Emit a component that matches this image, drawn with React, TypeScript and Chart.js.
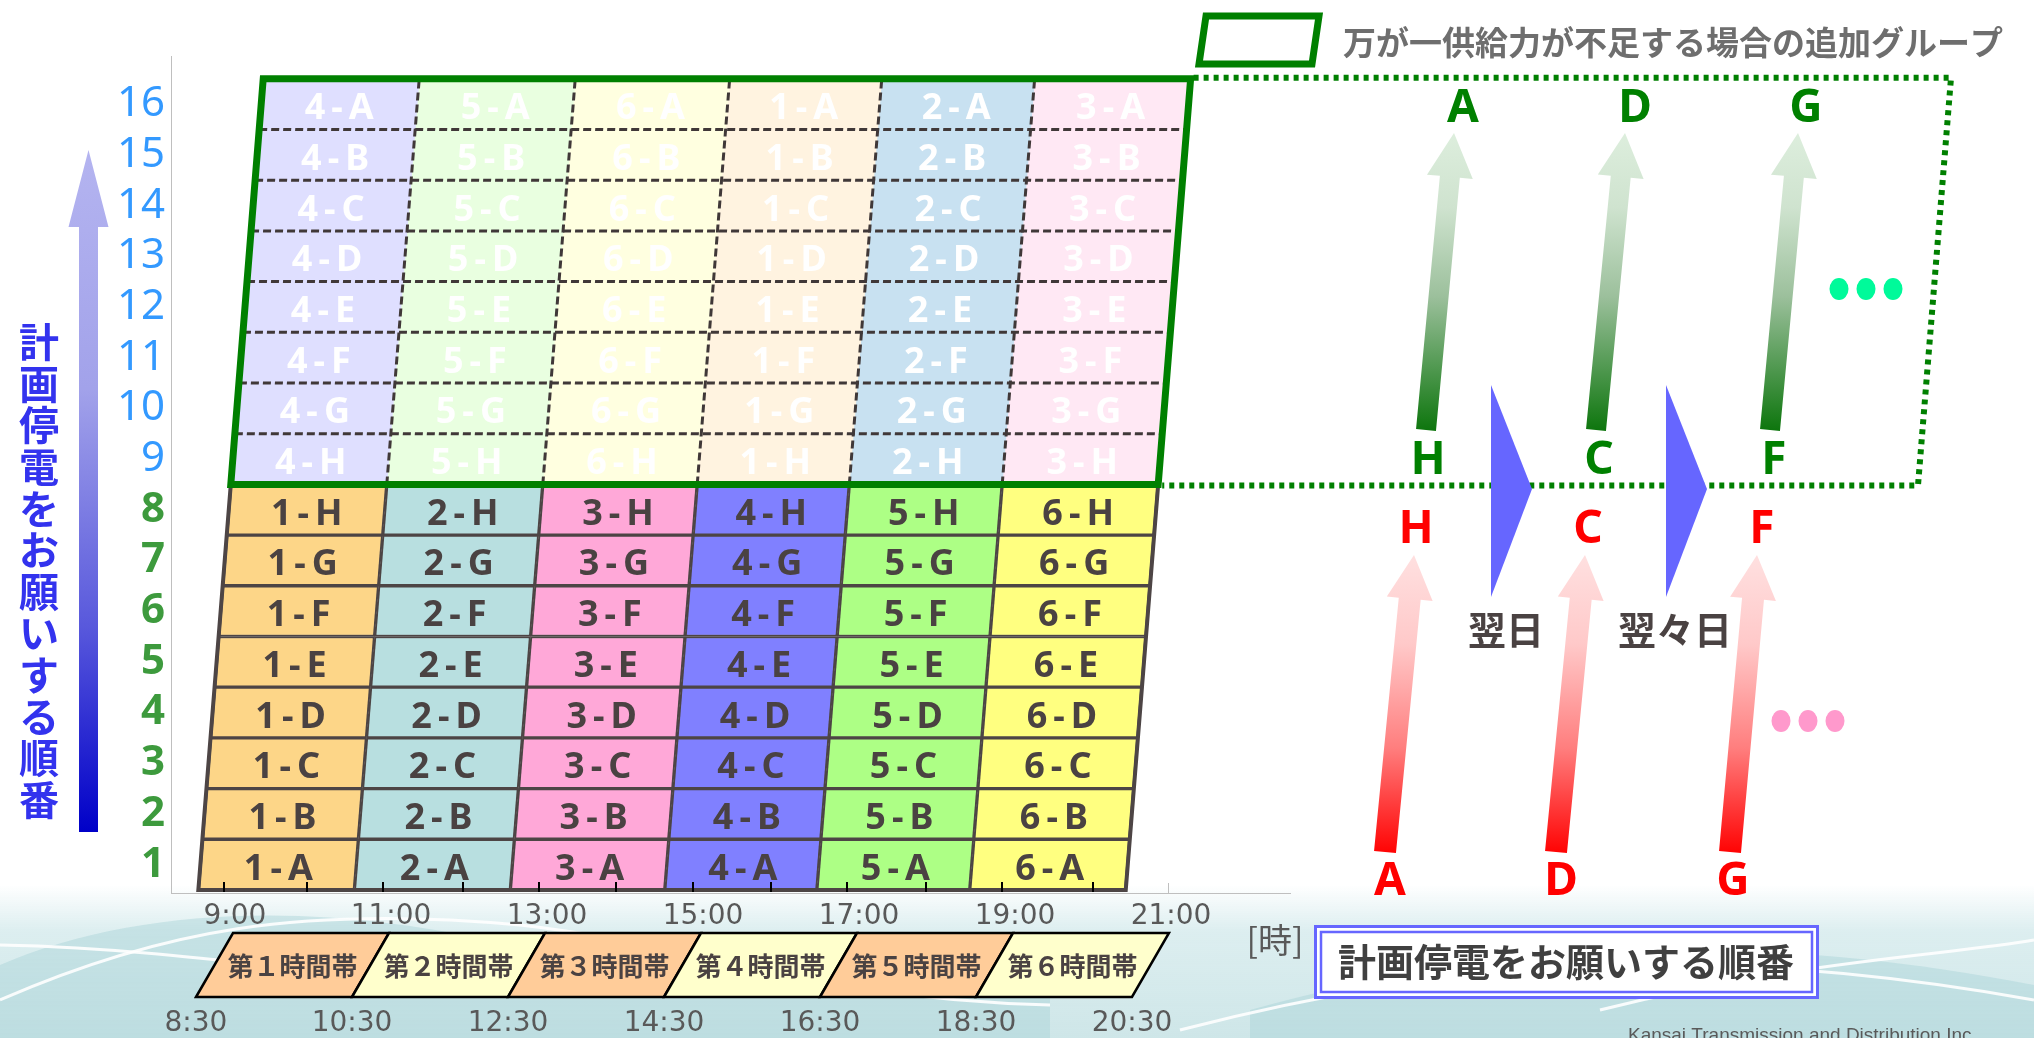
import React, { useEffect, useRef } from 'react';
import { Chart, registerables } from 'chart.js';

Chart.register(...registerables);

// ---------------- data ----------------
const groupLetters = ['A', 'B', 'C', 'D', 'E', 'F', 'G', 'H'];
const periodIds = ['1', '2', '3', '4', '5', '6'];
const extraPeriodIds = ['4', '5', '6', '1', '2', '3'];
const periodBoundsHours = [8.53, 10.53, 12.53, 14.51, 16.46, 18.42, 20.42];
const rowLabels = ['1', '2', '3', '4', '5', '6', '7', '8', '9', '10', '11', '12', '13', '14', '15', '16'];
const hourLabelValues = [9, 11, 13, 15, 17, 19, 21];
const hourMarkValues = [8.86, 9.92, 10.9, 11.92, 12.9, 13.88, 14.87, 15.87, 16.85, 17.86, 18.83, 20.0];
const axisEndMark = [20.96];
const bandNames = ['第１時間帯', '第２時間帯', '第３時間帯', '第４時間帯', '第５時間帯', '第６時間帯'];
const bandBoundHours = [8.5, 10.5, 12.5, 14.5, 16.5, 18.5, 20.5];
const bandBoundLabels = ['8:30', '10:30', '12:30', '14:30', '16:30', '18:30', '20:30'];
const dayLabels = ['翌日', '翌々日'];
const extraFromLetters = ['H', 'C', 'F'];
const extraToLetters = ['A', 'D', 'G'];
const baseFromLetters = ['A', 'D', 'G'];
const baseToLetters = ['H', 'C', 'F'];
const orderTitle = '計画停電をお願いする順番';
const legendText = '万が一供給力が不足する場合の追加グループ';
const hourUnit = '[時]';
const company = 'Kansai Transmission and Distribution Inc.';

// ---------------- styles ----------------
const X_MIN = 8.1795;
const X_MAX = 22.526;
const Y_MIN = -0.06;
const Y_MAX = 16.45;
const ROW_SHIFT_HOURS = 0.052;
const LOWER_COLORS = ['#FDD688', '#B8DFE0', '#FFA8D8', '#8080FF', '#ADFF85', '#FFFF80'];
const UPPER_COLORS = ['#DFDFFF', '#E9FFE0', '#FFFFE0', '#FFF3E0', '#C8E1F1', '#FFE8F4'];
const CELL_LINE = '#4D4545';
const TEXT_DARK = '#4A4242';
const GREEN = '#008000';
const CJK = "'Noto Sans CJK JP', sans-serif";
const SANS = "'Noto Sans', sans-serif";
const DEJAVU = "'DejaVu Sans', sans-serif";

function skewFactor(chart: any) {
  const xs = chart.scales.x;
  const ys = chart.scales.y;
  const dx = xs.getPixelForValue(X_MIN + ROW_SHIFT_HOURS) - xs.getPixelForValue(X_MIN);
  const dy = ys.getPixelForValue(0) - ys.getPixelForValue(1);
  return dx / dy;
}

function arrowPath(ctx: CanvasRenderingContext2D, tx: number, ty: number, hx: number, hy: number, shaftW: number, headW: number, headLen: number) {
  const dx = hx - tx;
  const dy = hy - ty;
  const len = Math.hypot(dx, dy);
  const ux = dx / len, uy = dy / len;
  const nx = -uy, ny = ux;
  const bx = hx - ux * headLen, by = hy - uy * headLen;
  ctx.beginPath();
  ctx.moveTo(tx + (nx * shaftW) / 2, ty + (ny * shaftW) / 2);
  ctx.lineTo(bx + (nx * shaftW) / 2, by + (ny * shaftW) / 2);
  ctx.lineTo(bx + (nx * headW) / 2, by + (ny * headW) / 2);
  ctx.lineTo(hx, hy);
  ctx.lineTo(bx - (nx * headW) / 2, by - (ny * headW) / 2);
  ctx.lineTo(bx - (nx * shaftW) / 2, by - (ny * shaftW) / 2);
  ctx.lineTo(tx - (nx * shaftW) / 2, ty - (ny * shaftW) / 2);
  ctx.closePath();
}

function drawWaves(ctx: CanvasRenderingContext2D, w: number, h: number) {
  ctx.save();
  const g = ctx.createLinearGradient(0, 885, 0, h);
  g.addColorStop(0, 'rgba(212,234,236,0)');
  g.addColorStop(0.3, 'rgba(212,234,236,0.8)');
  g.addColorStop(1, 'rgba(206,230,232,1)');
  ctx.fillStyle = g;
  ctx.fillRect(0, 885, w, h - 885);

  ctx.fillStyle = 'rgba(168,210,214,0.45)';
  ctx.beginPath();
  ctx.moveTo(0, 965);
  ctx.bezierCurveTo(140, 905, 330, 900, 520, 948);
  ctx.bezierCurveTo(700, 992, 880, 975, 1050, 955);
  ctx.lineTo(1050, h);
  ctx.lineTo(0, h);
  ctx.closePath();
  ctx.fill();

  ctx.beginPath();
  ctx.moveTo(1250, 1010);
  ctx.bezierCurveTo(1500, 940, 1750, 930, 2034, 985);
  ctx.lineTo(2034, h);
  ctx.lineTo(1250, h);
  ctx.closePath();
  ctx.fill();

  ctx.strokeStyle = 'rgba(255,255,255,0.9)';
  ctx.lineWidth = 3;
  ctx.beginPath();
  ctx.moveTo(0, 1000);
  ctx.bezierCurveTo(160, 930, 300, 905, 520, 925);
  ctx.bezierCurveTo(700, 945, 820, 1000, 1050, 1005);
  ctx.stroke();
  ctx.beginPath();
  ctx.moveTo(0, 945);
  ctx.bezierCurveTo(250, 950, 420, 1000, 650, 990);
  ctx.stroke();
  ctx.beginPath();
  ctx.moveTo(1180, 1030);
  ctx.bezierCurveTo(1450, 960, 1700, 940, 2034, 1000);
  ctx.stroke();
  ctx.beginPath();
  ctx.moveTo(1600, 1010);
  ctx.bezierCurveTo(1800, 960, 1950, 955, 2034, 940);
  ctx.stroke();
  ctx.restore();
}

function drawDecor(chart: any) {
  const ctx: CanvasRenderingContext2D = chart.ctx;
  const xs = chart.scales.x;
  const ys = chart.scales.y;
  const k = skewFactor(chart);
  const y0 = ys.getPixelForValue(0);
  const yTop = ys.getPixelForValue(16);
  const yMid = ys.getPixelForValue(8);
  const rightAt = (yy: number) => xs.getPixelForValue(periodBoundsHours[periodBoundsHours.length - 1]) + k * (y0 - yy);
  ctx.save();

  // ----- left arrow + vertical title -----
  const gl = ctx.createLinearGradient(0, 150, 0, 832);
  gl.addColorStop(0, '#B4B4F0');
  gl.addColorStop(0.35, '#A2A2EA');
  gl.addColorStop(0.7, '#5858DC');
  gl.addColorStop(1, '#0000C8');
  arrowPath(ctx, 88.5, 832, 88.5, 150, 19, 40, 77);
  ctx.fillStyle = gl;
  ctx.fill();

  ctx.fillStyle = '#3333EE';
  ctx.font = `bold 40px ${CJK}`;
  ctx.textAlign = 'center';
  ctx.textBaseline = 'middle';
  Array.from(orderTitle).forEach((ch, i) => {
    ctx.fillText(ch, 39, 342 + 41.6 * i);
  });

  // ----- legend -----
  ctx.strokeStyle = GREEN;
  ctx.lineWidth = 7;
  ctx.beginPath();
  ctx.moveTo(1206, 16);
  ctx.lineTo(1319, 16);
  ctx.lineTo(1312, 64);
  ctx.lineTo(1199, 64);
  ctx.closePath();
  ctx.stroke();
  ctx.fillStyle = '#6E6E6E';
  ctx.font = `bold 33px ${CJK}`;
  ctx.textAlign = 'left';
  ctx.textBaseline = 'middle';
  ctx.fillText(legendText, 1343, 42);

  // ----- dotted extension box -----
  ctx.strokeStyle = GREEN;
  ctx.lineWidth = 6;
  ctx.setLineDash([5, 5]);
  ctx.beginPath();
  ctx.moveTo(rightAt(yTop) + 3, yTop - 1);
  ctx.lineTo(1951, yTop - 1);
  ctx.lineTo(1918, yMid + 1);
  ctx.lineTo(rightAt(yMid) + 4, yMid + 1);
  ctx.stroke();
  ctx.setLineDash([]);

  // ----- rotation arrows -----
  const gTails = [1426, 1596, 1770];
  const gTips = [1454, 1625, 1798];
  const gg = ctx.createLinearGradient(0, 133, 0, 430);
  gg.addColorStop(0, '#DDEEDD');
  gg.addColorStop(0.25, '#CFE3CF');
  gg.addColorStop(0.55, '#9CC09C');
  gg.addColorStop(1, '#0E760E');
  gTails.forEach((tx, i) => {
    arrowPath(ctx, tx, 430, gTips[i], 133, 20, 46, 44);
    ctx.fillStyle = gg;
    ctx.fill();
  });
  const rTails = [1385, 1556, 1730];
  const rTips = [1414, 1585, 1757];
  const rg = ctx.createLinearGradient(0, 555, 0, 852);
  rg.addColorStop(0, '#FFE0E0');
  rg.addColorStop(0.3, '#FFC9C9');
  rg.addColorStop(0.65, '#FF7E7E');
  rg.addColorStop(1, '#FF0404');
  rTails.forEach((tx, i) => {
    arrowPath(ctx, tx, 852, rTips[i], 555, 22, 46, 44);
    ctx.fillStyle = rg;
    ctx.fill();
  });

  ctx.font = `bold 46px ${SANS}`;
  ctx.textAlign = 'center';
  ctx.textBaseline = 'alphabetic';
  ctx.fillStyle = GREEN;
  const gTopX = [1463, 1635, 1806];
  const gMidX = [1428, 1599, 1774];
  extraToLetters.forEach((t, i) => ctx.fillText(t, gTopX[i], 122));
  extraFromLetters.forEach((t, i) => ctx.fillText(t, gMidX[i], 474));
  ctx.fillStyle = '#FF0000';
  const rMidX = [1416, 1588, 1762];
  const rBotX = [1390, 1561, 1733];
  baseToLetters.forEach((t, i) => ctx.fillText(t, rMidX[i], 543));
  baseFromLetters.forEach((t, i) => ctx.fillText(t, rBotX[i], 895));

  // blue next-day triangles
  ctx.fillStyle = '#6666FF';
  [1491, 1666].forEach((x) => {
    ctx.beginPath();
    ctx.moveTo(x, 385);
    ctx.lineTo(x + 41, 489);
    ctx.lineTo(x, 597);
    ctx.closePath();
    ctx.fill();
  });
  ctx.fillStyle = TEXT_DARK;
  ctx.font = `bold 38px ${CJK}`;
  ctx.textBaseline = 'middle';
  const dayX = [1506, 1675];
  dayLabels.forEach((t, i) => ctx.fillText(t, dayX[i], 630));

  // dots
  const dot = (cx: number, cy: number, color: string) => {
    ctx.fillStyle = color;
    ctx.beginPath();
    ctx.ellipse(cx, cy, 9.5, 11, 0, 0, Math.PI * 2);
    ctx.fill();
  };
  [1839, 1866, 1893].forEach((cx) => dot(cx, 289, '#00FA9A'));
  [1781, 1808, 1835].forEach((cx) => dot(cx, 721, '#FF99CC'));

  // ----- time band ribbon -----
  const bTop = 933, bBot = 997, slant = 37;
  bandNames.forEach((name, i) => {
    const a = xs.getPixelForValue(bandBoundHours[i]);
    const b = xs.getPixelForValue(bandBoundHours[i + 1]);
    ctx.beginPath();
    ctx.moveTo(a, bBot);
    ctx.lineTo(a + slant, bTop);
    ctx.lineTo(b + slant, bTop);
    ctx.lineTo(b, bBot);
    ctx.closePath();
    ctx.fillStyle = i % 2 === 0 ? '#FFCC99' : '#FFFFCC';
    ctx.fill();
    ctx.strokeStyle = '#000000';
    ctx.lineWidth = 2.5;
    ctx.stroke();
    ctx.fillStyle = TEXT_DARK;
    ctx.font = `bold 26px ${CJK}`;
    ctx.textAlign = 'center';
    ctx.textBaseline = 'middle';
    ctx.fillText(name, (a + b) / 2 + slant / 2, (bTop + bBot) / 2 + 1);
  });
  ctx.fillStyle = '#595959';
  ctx.font = `28px ${DEJAVU}`;
  ctx.textAlign = 'center';
  ctx.textBaseline = 'middle';
  bandBoundLabels.forEach((t, i) => ctx.fillText(t, xs.getPixelForValue(bandBoundHours[i]), 1024));

  ctx.font = `34px ${CJK}`;
  ctx.fillText(hourUnit, 1275, 940);

  // ----- title box -----
  ctx.fillStyle = '#FFFFFF';
  ctx.fillRect(1314, 925, 505, 74);
  ctx.strokeStyle = '#6666FF';
  ctx.lineWidth = 3;
  ctx.strokeRect(1315.5, 926.5, 502, 71);
  ctx.lineWidth = 2.5;
  ctx.strokeRect(1321, 932, 491, 60);
  ctx.fillStyle = '#404040';
  ctx.font = `bold 38px ${CJK}`;
  ctx.fillText(orderTitle, 1566, 962);

  // company
  ctx.fillStyle = '#595959';
  ctx.font = `19px 'Liberation Sans', sans-serif`;
  ctx.textAlign = 'left';
  ctx.textBaseline = 'alphabetic';
  ctx.fillText(company, 1628, 1041);

  ctx.restore();
}

const rotaPlugin = {
  id: 'rotaPlugin',
  beforeDraw(chart: any) {
    drawWaves(chart.ctx, chart.width, chart.height);
  },
  beforeDatasetsDraw(chart: any) {
    const ctx = chart.ctx;
    const k = skewFactor(chart);
    const y0 = chart.scales.y.getPixelForValue(0);
    ctx.save();
    ctx.transform(1, 0, -k, 1, k * y0, 0);
  },
  afterDatasetsDraw(chart: any) {
    const ctx: CanvasRenderingContext2D = chart.ctx;
    const xs = chart.scales.x;
    const ys = chart.scales.y;
    const L = xs.getPixelForValue(periodBoundsHours[0]);
    const R = xs.getPixelForValue(periodBoundsHours[periodBoundsHours.length - 1]);
    const yb = ys.getPixelForValue(0);
    const ym = ys.getPixelForValue(8);
    const yt = ys.getPixelForValue(16);
    // (skewed space)
    ctx.strokeStyle = CELL_LINE;
    ctx.lineWidth = 4;
    ctx.strokeRect(L, ym, R - L, yb - ym);
    ctx.strokeStyle = '#403838';
    ctx.lineWidth = 3;
    ctx.setLineDash([8, 4]);
    for (let i = 1; i < periodBoundsHours.length - 1; i++) {
      const x = xs.getPixelForValue(periodBoundsHours[i]);
      ctx.beginPath();
      ctx.moveTo(x, ym);
      ctx.lineTo(x, yt);
      ctx.stroke();
    }
    for (let r = 9; r < 16; r++) {
      const y = ys.getPixelForValue(r);
      ctx.beginPath();
      ctx.moveTo(L, y);
      ctx.lineTo(R, y);
      ctx.stroke();
    }
    ctx.setLineDash([]);
    ctx.strokeStyle = GREEN;
    ctx.lineWidth = 7;
    ctx.strokeRect(L, yt, R - L, ym - yt);
    ctx.restore();

    // cell labels (upright text)
    const k = skewFactor(chart);
    ctx.save();
    ctx.font = `bold 36px ${SANS}`;
    (ctx as any).letterSpacing = '6px';
    ctx.textAlign = 'center';
    ctx.textBaseline = 'alphabetic';
    chart.data.datasets.forEach((ds: any) => {
      ctx.fillStyle = ds.tier === 'base' ? TEXT_DARK : '#FFFFFF';
      ds.data.forEach((pt: any) => {
        const cx = (pt.x[0] + pt.x[1]) / 2;
        const py = ys.getPixelForValue(pt.y);
        const px = xs.getPixelForValue(cx) + k * (yb - py);
        ctx.fillText(pt.name, px + 3, py + 15);
      });
    });
    (ctx as any).letterSpacing = '0px';

    // hour marks on the axis
    const bottom = chart.chartArea.bottom;
    ctx.strokeStyle = '#000000';
    ctx.lineWidth = 2;
    hourMarkValues.forEach((h) => {
      const x = Math.round(xs.getPixelForValue(h));
      ctx.beginPath();
      ctx.moveTo(x, bottom - 11);
      ctx.lineTo(x, bottom - 1);
      ctx.stroke();
    });
    ctx.strokeStyle = '#BFBFBF';
    ctx.lineWidth = 1;
    axisEndMark.forEach((h) => {
      const x = Math.round(xs.getPixelForValue(h)) + 0.5;
      ctx.beginPath();
      ctx.moveTo(x, bottom - 10);
      ctx.lineTo(x, bottom);
      ctx.stroke();
    });
    ctx.restore();
  },
  afterDraw(chart: any) {
    drawDecor(chart);
  },
};

export default function App() {
  const canvasRef = useRef<HTMLCanvasElement | null>(null);

  useEffect(() => {
    const canvas = canvasRef.current;
    if (!canvas) return;
    const datasets: any[] = [];
    periodIds.forEach((p, c) => {
      datasets.push({
        label: `第${p}時間帯`,
        tier: 'base',
        data: groupLetters.map((g, r) => ({
          x: [periodBoundsHours[c], periodBoundsHours[c + 1]],
          y: r + 0.5,
          name: `${p}-${g}`,
        })),
        backgroundColor: LOWER_COLORS[c],
        borderColor: CELL_LINE,
        borderWidth: 2,
        borderSkipped: false,
        grouped: false,
        clip: false,
        barPercentage: 1,
        categoryPercentage: 1,
      });
    });
    extraPeriodIds.forEach((p, c) => {
      datasets.push({
        label: `追加 第${p}時間帯`,
        tier: 'extra',
        data: groupLetters.map((g, r) => ({
          x: [periodBoundsHours[c], periodBoundsHours[c + 1]],
          y: 16 - r - 0.5,
          name: `${p}-${g}`,
        })),
        backgroundColor: UPPER_COLORS[c],
        borderWidth: 0,
        borderSkipped: false,
        grouped: false,
        clip: false,
        barPercentage: 1,
        categoryPercentage: 1,
      });
    });

    const chart = new Chart(canvas, {
      type: 'bar',
      data: { datasets },
      plugins: [rotaPlugin as any],
      options: {
        indexAxis: 'y',
        animation: false,
        responsive: true,
        maintainAspectRatio: false,
        devicePixelRatio: 1,
        events: [],
        layout: { padding: { top: 56, right: 744, bottom: 0, left: 0 } },
        plugins: { legend: { display: false }, tooltip: { enabled: false } },
        scales: {
          x: {
            type: 'linear',
            min: X_MIN,
            max: X_MAX,
            offset: false,
            afterFit: (s: any) => {
              s.height = 145;
            },
            afterBuildTicks: (s: any) => {
              s.ticks = hourLabelValues.map((v) => ({ value: v }));
            },
            grid: { display: false, drawTicks: false, offset: false },
            border: { display: true, color: '#BFBFBF', width: 1 },
            ticks: {
              autoSkip: false,
              maxRotation: 0,
              padding: 7,
              color: '#595959',
              font: { family: DEJAVU, size: 28 },
              callback: (v: any) => `${v}:00`,
            },
          },
          y: {
            type: 'linear',
            min: Y_MIN,
            max: Y_MAX,
            offset: false,
            afterFit: (s: any) => {
              s.width = 171;
            },
            afterBuildTicks: (s: any) => {
              s.ticks = rowLabels.map((_, i) => ({ value: i + 0.5 }));
            },
            grid: { display: false, drawTicks: false, offset: false },
            border: { display: true, color: '#BFBFBF', width: 1 },
            ticks: {
              autoSkip: false,
              padding: 6,
              color: (c: any) => (c.index < 8 ? '#3D9A3D' : '#3399FF'),
              font: (c: any) => ({ family: SANS, size: 42, weight: c.index < 8 ? 'bold' : 'normal' }),
              callback: (_v: any, i: number) => rowLabels[i],
            },
          },
        },
      } as any,
    });
    return () => chart.destroy();
  }, []);

  return (
    <div style={{ position: 'fixed', left: 0, top: 0, width: 2034, height: 1038, background: '#ffffff' }}>
      <canvas ref={canvasRef} />
    </div>
  );
}
